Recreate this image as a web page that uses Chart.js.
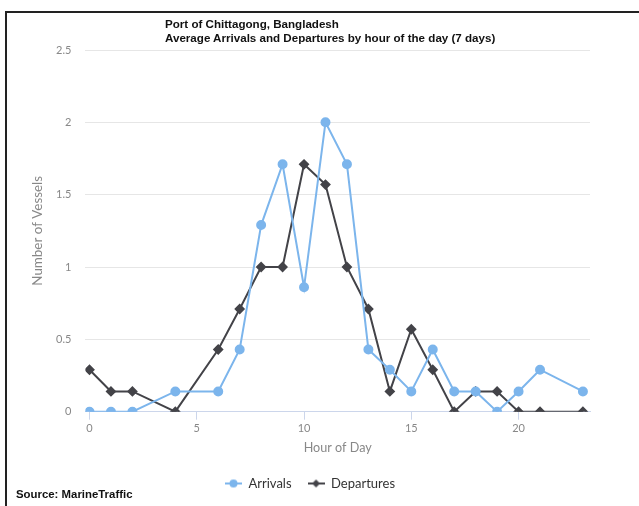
<!DOCTYPE html>
<html>
<head>
<meta charset="utf-8">
<script src="https://cdn.jsdelivr.net/npm/chart.js@4.4.1/dist/chart.umd.min.js"></script>
<style>
  html, body { margin: 0; padding: 0; background: #fff; }
  #wrap { position: relative; width: 639px; height: 506px; overflow: hidden; }
  #frame { position: absolute; left: 5px; top: 11px; right: -4px; bottom: -4px;
           border-top: 2px solid #222; border-left: 2px solid #222; }
  #title { position: absolute; left: 165px; top: 17px; font: bold 11.6px "Liberation Sans", Arial, sans-serif;
           color: #111; line-height: 14px; }
  #source { position: absolute; left: 16px; top: 488px; font: bold 11.4px "Liberation Sans", Arial, sans-serif; color: #111; }
  canvas { position: absolute; left: 0; top: 0; }
</style>
</head>
<body>
<div id="wrap">
  <canvas id="chart" width="639" height="506"></canvas>
  <div id="frame"></div>
  <div id="title">Port of Chittagong, Bangladesh<br>Average Arrivals and Departures by hour of the day (7 days)</div>
  <div id="source">Source: MarineTraffic</div>
</div>
<script>
// Data (averages over 7 days)
const hours = [0, 1, 2, 4, 6, 7, 8, 9, 10, 11, 12, 13, 14, 15, 16, 17, 18, 19, 20, 21, 23];
const arrivals = [0, 0, 0, 0.14, 0.14, 0.43, 1.29, 1.71, 0.86, 2, 1.71, 0.43, 0.29, 0.14, 0.43, 0.14, 0.14, 0, 0.14, 0.29, 0.14];
const departures = [0.29, 0.14, 0.14, 0, 0.43, 0.71, 1, 1, 1.71, 1.57, 1, 0.71, 0.14, 0.57, 0.29, 0, 0.14, 0.14, 0, 0, 0];
const xTicks = [0, 5, 10, 15, 20];

const arrColor = '#7cb5ec';
const depColor = '#434348';
const axisFont = 'Lato, "Open Sans", sans-serif';

// little line + marker pictures for the legend
function legendIcon(color, style) {
  const c = document.createElement('canvas');
  c.width = 17; c.height = 10;
  const g = c.getContext('2d');
  g.strokeStyle = color; g.fillStyle = color; g.lineWidth = 2;
  g.beginPath(); g.moveTo(0, 5); g.lineTo(17, 5); g.stroke();
  g.beginPath();
  if (style === 'circle') {
    g.arc(8.5, 5, 4, 0, Math.PI * 2);
  } else {
    g.moveTo(8.5, 1); g.lineTo(12.5, 5); g.lineTo(8.5, 9); g.lineTo(4.5, 5); g.closePath();
  }
  g.fill();
  return c;
}

const toPoints = vals => hours.map((h, i) => ({ x: h, y: vals[i] }));

new Chart(document.getElementById('chart'), {
  type: 'line',
  data: {
    datasets: [
      {
        label: 'Arrivals',
        data: toPoints(arrivals),
        borderColor: arrColor,
        backgroundColor: arrColor,
        borderWidth: 2,
        pointStyle: 'circle',
        pointRadius: 4,
        pointHoverRadius: 4,
        tension: 0
      },
      {
        label: 'Departures',
        data: toPoints(departures),
        borderColor: depColor,
        backgroundColor: depColor,
        borderWidth: 2,
        pointStyle: 'rectRot',
        pointRadius: 4,
        pointHoverRadius: 4,
        tension: 0
      }
    ]
  },
  options: {
    responsive: false,
    animation: false,
    layout: { padding: { left: 30, right: 49, top: 50, bottom: 6 } },
    plugins: {
      title: { display: false },
      tooltip: { enabled: false },
      legend: {
        position: 'bottom',
        labels: {
          usePointStyle: true,
          pointStyleWidth: 17,
          padding: 16,
          color: '#333',
          font: { family: axisFont, size: 13 },
          generateLabels(chart) {
            const items = Chart.defaults.plugins.legend.labels.generateLabels(chart);
            items[0].pointStyle = legendIcon(arrColor, 'circle');
            items[1].pointStyle = legendIcon(depColor, 'diamond');
            return items;
          }
        }
      }
    },
    scales: {
      x: {
        type: 'linear',
        min: -0.19,
        max: 23.33,
        afterBuildTicks(axis) { axis.ticks = xTicks.map(v => ({ value: v })); },
        grid: { drawOnChartArea: false, color: '#ccd6eb', tickLength: 8 },
        border: { color: '#ccd6eb' },
        ticks: { color: '#888', font: { family: axisFont, size: 11 }, padding: 2, maxRotation: 0 },
        title: { display: true, text: 'Hour of Day', color: '#888', font: { family: axisFont, size: 12.6 }, padding: { top: 3, bottom: 6 } }
      },
      y: {
        min: 0,
        max: 2.5,
        ticks: { stepSize: 0.5, color: '#888', font: { family: axisFont, size: 11 }, padding: 14,
                 callback: v => String(v) },
        grid: { color: '#e6e6e6', drawTicks: false },
        border: { display: false },
        title: { display: true, text: 'Number of Vessels', color: '#888', font: { family: axisFont, size: 13.4 }, padding: { top: 0, bottom: -4 } }
      }
    }
  }
});
</script>
</body>
</html>
